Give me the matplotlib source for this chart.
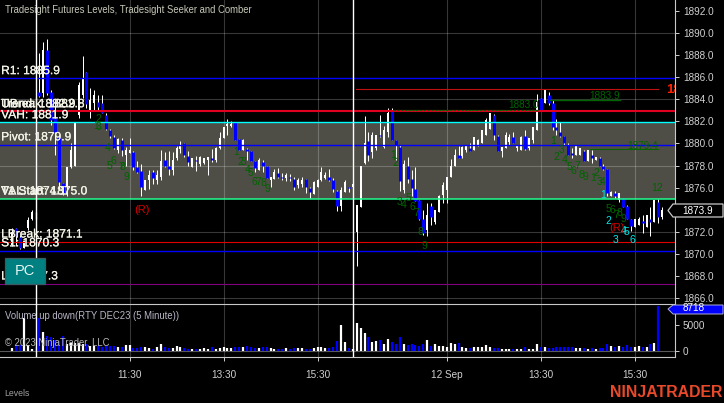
import matplotlib
matplotlib.use('Agg')
import matplotlib.pyplot as plt
import matplotlib.patheffects as pe
from matplotlib.patches import Polygon, Rectangle

plt.rcParams['font.family'] = ['Liberation Sans', 'DejaVu Sans']

highs = [1872.3, 1872.3, 1871.7, 1871.3, 1873.3, 1874.0, 1873.9, 1888.2, 1889.2, 1889.5,
         1884.8, 1883.9, 1880.8, 1876.4, 1877.9, 1880.0, 1881.9, 1885.6, 1887.9, 1886.5,
         1885.0, 1884.8, 1884.4, 1884.4, 1882.8, 1881.3, 1880.8, 1880.5, 1880.5, 1879.7,
         1880.5, 1879.3, 1878.4, 1878.1, 1876.7, 1877.6, 1877.6, 1877.6, 1879.4, 1879.2,
         1879.3, 1879.2, 1879.8, 1880.2, 1880.0, 1879.3, 1878.7, 1878.9, 1878.9, 1878.7,
         1878.8, 1879.5, 1879.7, 1881.0, 1881.5, 1882.2, 1882.0, 1881.9, 1880.4, 1880.4,
         1879.6, 1879.3, 1878.4, 1878.7, 1878.5, 1878.0, 1877.0, 1877.7, 1877.8, 1877.3,
         1877.3, 1877.2, 1877.0, 1876.9, 1877.0, 1876.8, 1876.1, 1876.6, 1876.8, 1877.9,
         1877.4, 1877.7, 1876.9, 1875.8, 1876.1, 1876.7, 1876.1, 1876.3, 1874.4, 1878.0,
         1882.5, 1881.0, 1881.0, 1880.8, 1882.6, 1881.6, 1883.2, 1883.2, 1880.3, 1879.9,
         1878.5, 1878.8, 1877.6, 1877.9, 1874.9, 1874.0, 1874.6, 1874.6, 1874.0, 1875.3,
         1876.5, 1877.0, 1878.6, 1879.5, 1879.8, 1879.8, 1879.9, 1880.0, 1880.6, 1880.4,
         1881.2, 1882.3, 1882.8, 1882.7, 1880.8, 1879.7, 1881.0, 1880.9, 1881.0, 1879.9,
         1880.7, 1881.2, 1880.5, 1881.5, 1884.5, 1884.1, 1884.8, 1884.7, 1883.9, 1882.2,
         1881.9, 1880.7, 1880.0, 1879.6, 1879.8, 1879.6, 1879.4, 1879.4, 1879.4, 1878.8,
         1878.8, 1878.1, 1877.7, 1875.7, 1875.7, 1875.5, 1875.1, 1874.4, 1873.2, 1873.2,
         1873.3, 1873.5, 1873.5, 1874.2, 1874.9, 1875.0, 1874.2]

lows = [1870.7, 1870.7, 1870.4, 1870.5, 1872.2, 1873.1, 1873.1, 1884.2, 1884.2, 1884.4,
        1881.7, 1879.0, 1875.8, 1875.3, 1875.2, 1877.8, 1878.0, 1882.3, 1884.1, 1883.2,
        1882.3, 1882.9, 1882.9, 1882.8, 1881.2, 1880.5, 1879.5, 1879.1, 1878.9, 1878.0,
        1879.1, 1877.6, 1877.3, 1875.2, 1875.8, 1875.9, 1876.3, 1876.3, 1876.7, 1877.9,
        1877.1, 1877.1, 1878.5, 1879.1, 1878.8, 1878.0, 1877.9, 1877.5, 1878.0, 1878.1,
        1877.1, 1878.3, 1878.3, 1879.5, 1880.5, 1880.8, 1881.5, 1880.3, 1879.4, 1879.4,
        1878.5, 1878.4, 1877.4, 1877.6, 1877.4, 1876.9, 1876.1, 1876.8, 1876.9, 1876.7,
        1876.6, 1876.6, 1875.8, 1876.0, 1876.1, 1875.5, 1875.1, 1875.4, 1876.1, 1876.6,
        1876.8, 1876.6, 1875.6, 1873.9, 1873.9, 1875.6, 1875.6, 1876.1, 1868.9, 1874.2,
        1878.1, 1878.4, 1878.7, 1879.4, 1880.6, 1879.6, 1880.6, 1880.3, 1878.5, 1875.7,
        1875.5, 1876.4, 1875.2, 1874.8, 1873.1, 1871.7, 1871.6, 1872.6, 1872.7, 1873.8,
        1874.6, 1874.6, 1877.0, 1878.0, 1878.7, 1878.7, 1879.2, 1879.3, 1879.4, 1879.8,
        1880.0, 1880.8, 1881.3, 1880.3, 1879.3, 1878.8, 1879.6, 1879.9, 1880.0, 1879.3,
        1879.4, 1879.4, 1879.4, 1880.0, 1881.2, 1882.9, 1883.7, 1883.5, 1881.2, 1880.8,
        1880.6, 1879.9, 1879.0, 1878.7, 1879.0, 1879.0, 1878.4, 1878.4, 1878.2, 1878.5,
        1878.0, 1877.6, 1875.2, 1875.2, 1875.1, 1874.7, 1874.2, 1873.2, 1872.1, 1872.4,
        1872.6, 1871.9, 1872.4, 1871.6, 1872.9, 1872.8, 1873.2]

opens = [1870.8, 1872.3, 1871.5, 1870.5, 1872.3, 1873.2, 1873.8, 1884.7, 1884.6, 1888.5,
         1884.7, 1882.3, 1880.6, 1876.4, 1876.1, 1877.9, 1878.0, 1882.6, 1884.4, 1886.5,
         1883.0, 1883.7, 1883.8, 1883.7, 1882.6, 1881.2, 1880.6, 1879.4, 1880.3, 1879.0,
         1879.1, 1879.2, 1877.9, 1877.5, 1875.8, 1876.7, 1877.4, 1876.7, 1877.0, 1878.5,
         1878.0, 1877.6, 1878.7, 1879.5, 1880.0, 1878.9, 1877.9, 1878.5, 1878.1, 1878.2,
         1878.5, 1878.7, 1878.5, 1879.6, 1880.5, 1881.6, 1881.6, 1881.9, 1880.4, 1879.4,
         1879.5, 1879.3, 1878.4, 1877.6, 1878.3, 1878.0, 1876.7, 1876.8, 1877.3, 1877.0,
         1876.9, 1877.0, 1876.8, 1876.2, 1876.3, 1876.8, 1876.0, 1875.4, 1876.1, 1876.7,
         1876.9, 1877.0, 1876.7, 1875.7, 1874.3, 1875.6, 1876.1, 1876.1, 1872.0, 1874.2,
         1878.2, 1880.2, 1879.2, 1879.6, 1880.8, 1879.7, 1881.0, 1882.9, 1880.3, 1879.7,
         1875.8, 1878.0, 1876.8, 1875.9, 1874.9, 1873.2, 1872.2, 1874.3, 1872.9, 1873.8,
         1875.3, 1875.8, 1877.0, 1878.0, 1879.0, 1878.9, 1879.4, 1879.6, 1879.4, 1879.8,
         1880.0, 1880.8, 1881.3, 1882.6, 1880.7, 1879.3, 1879.6, 1880.1, 1880.6, 1879.6,
         1879.4, 1880.7, 1879.6, 1880.3, 1881.2, 1884.1, 1883.7, 1884.4, 1883.7, 1881.5,
         1881.0, 1880.7, 1879.9, 1879.1, 1879.0, 1879.0, 1879.3, 1878.4, 1879.0, 1878.5,
         1878.7, 1878.0, 1877.7, 1875.2, 1875.5, 1874.9, 1875.1, 1874.3, 1873.2, 1872.4,
         1872.6, 1873.0, 1872.4, 1873.2, 1872.9, 1874.7, 1873.3]

closes = [1872.0, 1871.6, 1870.5, 1871.2, 1873.1, 1873.8, 1873.2, 1884.3, 1888.5, 1884.6,
          1882.1, 1881.0, 1876.5, 1875.5, 1877.9, 1879.4, 1881.9, 1885.3, 1885.8, 1883.6,
          1883.9, 1884.4, 1883.3, 1882.8, 1881.3, 1880.7, 1879.6, 1880.4, 1879.4, 1879.4,
          1879.4, 1877.9, 1877.4, 1876.1, 1876.7, 1877.1, 1876.9, 1877.1, 1878.4, 1878.0,
          1877.7, 1878.5, 1879.6, 1879.8, 1879.0, 1878.3, 1878.7, 1878.4, 1878.8, 1878.7,
          1878.8, 1878.5, 1879.6, 1880.5, 1881.5, 1881.8, 1881.8, 1880.3, 1879.4, 1880.3,
          1879.3, 1878.4, 1877.8, 1878.5, 1878.0, 1876.9, 1877.0, 1877.4, 1877.0, 1876.9,
          1877.1, 1876.9, 1876.1, 1876.7, 1876.7, 1876.1, 1875.6, 1876.5, 1876.7, 1877.4,
          1877.1, 1876.7, 1875.9, 1874.3, 1875.8, 1876.5, 1876.0, 1876.3, 1874.4, 1878.0,
          1880.0, 1879.0, 1880.8, 1880.8, 1880.7, 1881.2, 1882.8, 1880.3, 1879.9, 1876.6,
          1878.1, 1876.8, 1876.0, 1874.8, 1873.2, 1871.9, 1873.5, 1873.3, 1874.0, 1875.2,
          1876.2, 1877.0, 1878.0, 1879.0, 1878.7, 1879.7, 1879.8, 1879.3, 1880.6, 1880.3,
          1881.2, 1882.1, 1882.8, 1880.8, 1879.3, 1879.7, 1880.8, 1880.6, 1880.0, 1879.9,
          1880.6, 1879.5, 1880.5, 1881.5, 1883.8, 1882.9, 1884.8, 1883.7, 1881.5, 1881.2,
          1880.7, 1880.0, 1879.0, 1879.0, 1879.8, 1879.6, 1878.4, 1879.4, 1878.7, 1878.8,
          1878.0, 1877.7, 1875.5, 1875.6, 1875.2, 1875.5, 1874.2, 1873.2, 1872.5, 1873.2,
          1873.2, 1872.8, 1873.5, 1872.9, 1874.9, 1873.3, 1874.0]

volumes = [400, 1050, 1050, 6280, 1050, 200, 600, 6280, 3660, 2800,
           2700, 2000, 1900, 2800, 1370, 1500, 1500, 1500, 1370, 1370,
           850, 850, 850, 700, 850, 850, 850, 600, 600, 1050,
           1050, 500, 400, 600, 600, 500, 300, 700, 1250, 600,
           500, 400, 800, 600, 450, 250, 250, 250, 200, 400,
           250, 600, 250, 400, 650, 500, 400, 600, 700, 600,
           850, 700, 500, 400, 600, 700, 500, 250, 300, 300,
           500, 300, 400, 400, 400, 300, 300, 400, 600, 700,
           400, 450, 700, 1830, 4970, 1700, 400, 250, 5490, 4450,
           3340, 2550, 1700, 1830, 2030, 1370, 2160, 1700, 1240, 2550,
           1180, 1050, 1370, 1050, 850, 1240, 2030, 850, 1240, 850,
           850, 720, 1500, 1180, 1500, 720, 400, 520, 720, 720,
           720, 1050, 720, 400, 450, 260, 260, 260, 200, 200,
           330, 590, 200, 330, 1370, 720, 590, 450, 520, 590,
           590, 590, 590, 590, 450, 450, 400, 330, 400, 260,
           450, 450, 1240, 850, 720, 850, 720, 1050, 720, 720,
           850, 720, 720, 1240, 1500, 8718, 0]

time_ticks = [30, 54, 78, 111, 135, 159]
time_labels = ['11:30', '13:30', '15:30', '12 Sep', '13:30', '15:30']
session_breaks = [6, 87]
price_ticks = [1892, 1890, 1888, 1886, 1884, 1882, 1880, 1878, 1876, 1872, 1870, 1868, 1866]
price_grid = [1890, 1884, 1878, 1872, 1866]

val_level = 1875.0
vah_level = 1881.9

# value, colour, line width in points
level_lines = [(1885.9, '#0000ff', 1.0),
               (1882.9, '#e00020', 1.5),
               (1881.9, '#00ffff', 1.0),
               (1879.9, '#0000ff', 1.0),
               (1875.0, '#20ff90', 1.1),
               (1871.1, '#e00000', 0.8),
               (1870.3, '#0000ff', 1.0),
               (1867.3, '#800080', 0.8)]

level_texts = [('R1: 1885.9', 1885.9),
               ('UBreak: 1882.8', 1882.9),
               ('Trend: 1882.9', 1882.9),
               ('VAH: 1881.9', 1881.9),
               ('Pivot: 1879.9', 1879.9),
               ('VAL: 1874.1', 1875.0),
               ('T1 Start: 1875.0', 1875.0),
               ('LBreak: 1871.1', 1871.1),
               ('S1: 1870.3', 1870.3),
               ('L2: 1867.3', 1867.3)]

# bar index, price, text
green_counts = [(22, 1882.2, '2'), (21.4, 1881.6, '1'), (22.2, 1881.5, '3'), (24.3, 1879.6, '4'),
                (25, 1878.0, '5'), (26, 1878.4, '6'), (27.8, 1877.9, '7'), (28.3, 1877.9, '8'),
                (29.1, 1877.0, '9'),
                (57.2, 1879.2, '1'), (58.2, 1878.3, '2'), (59, 1878.3, '3'), (60.2, 1877.6, '4'),
                (61, 1877.3, '5'), (61.8, 1876.5, '6'), (62.8, 1876.5, '7'), (64.1, 1876.4, '8'),
                (65.1, 1875.9, '9'),
                (97.3, 1879.0, '1'), (98, 1878.2, '2'), (99, 1874.7, '3'), (100, 1874.4, '4'),
                (101.1, 1875.1, '5'), (102.1, 1874.2, '6'), (103.1, 1873.7, '7'), (104.2, 1872.0, '8'),
                (105.2, 1870.7, '9'),
                (138.1, 1880.2, '1'), (139.1, 1878.8, '2'), (140.2, 1879.4, '3'), (141.2, 1878.5, '4'),
                (142.2, 1877.9, '5'), (143.2, 1877.5, '6'), (144.2, 1878.0, '7'), (145.3, 1877.1, '8'),
                (146.3, 1877.0, '9'),
                (148.3, 1876.9, '1'), (149.1, 1877.3, '2'), (150.1, 1876.5, '3'), (150.9, 1876.5, '4'),
                (152.2, 1874.1, '5'), (153.2, 1874.0, '6'), (154.2, 1873.5, '7'), (155.2, 1873.7, '8'),
                (156.2, 1873.2, '9'), (164.7, 1876.0, '12')]
cyan_counts = [(150.9, 1875.3, '1'), (152.2, 1873.0, '2'), (154.2, 1871.3, '3'),
               (156.2, 1872.1, '4'), (157, 1872.0, '5'), (158.3, 1871.3, '6')]
reversals = [(33.2, 1874.0, '(R)'), (154.5, 1872.3, '(R)')]

GRID = 'white'
AXIS = '#c8c8c8'
TEXT = '#d0d0d0'
BLUE = '#0000ff'
DARK_GREEN = '#006400'

W, H = 724, 403
PANEL_RIGHT, PRICE_BOTTOM, VOL_BOTTOM = 674.5, 304.3, 357.3

fig = plt.figure(figsize=(W / 100, H / 100), dpi=100, facecolor='black')
ax = fig.add_axes([0, 1 - PRICE_BOTTOM / H, PANEL_RIGHT / W, PRICE_BOTTOM / H], facecolor='black')
ax_vol = fig.add_axes([0, 1 - VOL_BOTTOM / H, PANEL_RIGHT / W, (VOL_BOTTOM - PRICE_BOTTOM) / H],
                      facecolor='black', sharex=ax)

xs = list(range(len(closes)))
colors = ['white' if c >= o else BLUE for o, c in zip(opens, closes)]
body_widths = [1.44 if c >= o else 2.16 for o, c in zip(opens, closes)]

# value area band and grid
ax.axhspan(val_level, vah_level, color='#4e4d46', lw=0, zorder=1)
for t in time_ticks:
    ax.axvline(t, color=GRID, alpha=0.22, lw=0.8, zorder=2)
    ax_vol.axvline(t, color=GRID, alpha=0.22, lw=0.8, zorder=1)
for p in price_grid:
    ax.axhline(p, color=GRID, alpha=0.22, lw=0.8, zorder=2)

# price bars
wicks = ax.vlines(xs, lows, highs, color='white', lw=0.72, zorder=3)
wicks.set_snap(True)
bodies = ax.vlines(xs, opens, closes, colors=colors, linewidths=body_widths, capstyle='butt', zorder=4)
bodies.set_snap(True)

for value, color, lw in level_lines:
    ax.axhline(value, color=color, lw=lw, zorder=5)
for b in session_breaks:
    ax.axvline(b, color='white', lw=1.0, zorder=6)
    ax_vol.axvline(b, color='white', lw=1.0, zorder=4)

# extra levels drawn part of the way across
ax.plot([87.8, 165.0], [1884.9, 1884.9], color='#c01010', lw=0.8, zorder=5)
ax.plot([97.3, 134.5], [1883.0, 1883.0], color=DARK_GREEN, lw=0.9, ls=(0, (2, 1)), zorder=5)
ax.plot([137.4, 155.2], [1883.9, 1883.9], color=DARK_GREEN, lw=1.0, zorder=5)
ax.plot([147.5, 165.0], [1879.5, 1879.5], color=DARK_GREEN, lw=0.7, zorder=5)
ax.text(134.5, 1883.5, '1883.0', color=DARK_GREEN, fontsize=7.2, ha='right', va='center', zorder=7)
ax.text(155.2, 1884.3, '1883.9', color=DARK_GREEN, fontsize=7.2, ha='right', va='center', zorder=7)
ax.text(165.0, 1879.8, '1879.4', color=DARK_GREEN, fontsize=7.2, ha='right', va='center', zorder=7)
ax.text(166.9, 1884.8, '1884.9', color='#ff2000', fontsize=9.5, fontweight='bold',
        va='center', clip_on=True, zorder=7)

for x, y, s in green_counts:
    ax.text(x, y, s, color=DARK_GREEN, fontsize=7.5, ha='center', va='center', zorder=7)
for x, y, s in cyan_counts:
    ax.text(x, y, s, color='#00e8e8', fontsize=7.5, ha='center', va='center', zorder=7)
for x, y, s in reversals:
    ax.text(x, y, s, color='#d80000', fontsize=8, ha='center', va='center', zorder=7)

for s, value in level_texts:
    t = ax.annotate(s, (0, value), xycoords=ax.get_yaxis_transform(), xytext=(0.8, 5.2),
                    textcoords='offset points', color='#f4f4e8', fontsize=8.65, va='center', zorder=8)
    t.set_path_effects([pe.withStroke(linewidth=0.15, foreground='#f4f4e8')])

ax.set_xlim(-3.064, 169.14)
ax.set_ylim(1865.43, 1892.996)
ax.yaxis.tick_right()
ax.set_yticks(price_ticks)
ax.set_yticklabels([f'{p:.1f}' for p in price_ticks])
ax.tick_params(axis='y', colors=TEXT, labelsize=7.2, length=3, width=0.7, pad=3)
ax.tick_params(axis='x', length=0, labelbottom=False)
for name in ['top', 'left', 'bottom']:
    ax.spines[name].set_visible(False)
ax.spines['right'].set_color(AXIS)
ax.spines['right'].set_linewidth(0.8)

# volume panel
ax_vol.axhline(0, color=GRID, alpha=0.35, lw=0.8, zorder=1)
vol_bars = ax_vol.vlines(xs, 0, volumes, colors=colors, lw=1.6, capstyle='butt', zorder=3)
vol_bars.set_snap(True)
ax_vol.set_ylim(-1333, 9059)
ax_vol.set_yticks([0, 5000])
ax_vol.yaxis.tick_right()
ax_vol.set_xticks(time_ticks)
ax_vol.set_xticklabels(time_labels)
ax_vol.tick_params(axis='y', colors=TEXT, labelsize=7.2, length=3, width=0.7, pad=3)
ax_vol.tick_params(axis='x', colors=TEXT, labelsize=7.2, length=3, width=0.7, pad=6.3)
ax_vol.spines['left'].set_visible(False)
for name in ['top', 'right', 'bottom']:
    ax_vol.spines[name].set_color(AXIS)
    ax_vol.spines[name].set_linewidth(0.8)

# overlay in pixel coordinates for window furniture
top = fig.add_axes([0, 0, 1, 1], facecolor='none')
top.set_xlim(0, W)
top.set_ylim(H, 0)
top.axis('off')

top.text(5, 10, 'Tradesight Futures Levels, Tradesight Seeker and Comber', color='#c8c8b8',
         fontsize=6.87, va='center')
top.text(5, 315.7, 'Volume up down(RTY DEC23 (5 Minute))', color='#b8b8c8', fontsize=6.87, va='center')
top.text(5, 343, '\u00a9 2023 NinjaTrader, LLC', color='#b8b8b8', fontsize=6.87, va='center')
top.text(4, 394, 'Levels', color='#a0a0a0', fontsize=6.3, va='center')
top.text(722, 392.7, 'NINJATRADER', color='#e8492a', fontsize=11.4, fontweight='bold', ha='right', va='center')

top.add_patch(Rectangle((5, 258), 40, 26, facecolor='#008080', edgecolor='#3c5a64', lw=0.9, zorder=9))
top.text(25, 271, 'PC', color='#e8f4f4', fontsize=10.5, ha='center', va='center', zorder=10)

top.add_patch(Polygon([(668, 210.5), (673, 204), (723, 204), (723, 217), (673, 217)], closed=True,
                      facecolor='black', edgecolor='#c8c8c8', lw=0.9, zorder=9))
top.text(698, 210.5, '1873.9', color='white', fontsize=7.2, ha='center', va='center', zorder=10)
top.add_patch(Polygon([(668, 309), (673, 305), (723, 305), (723, 314), (673, 314)], closed=True,
                      facecolor=BLUE, edgecolor='#b0b0d8', lw=0.7, zorder=9))
top.text(694, 308, '8718', color='white', fontsize=7.2, ha='center', va='center', zorder=10)

fig.savefig('out.png', dpi=100, facecolor='black')
